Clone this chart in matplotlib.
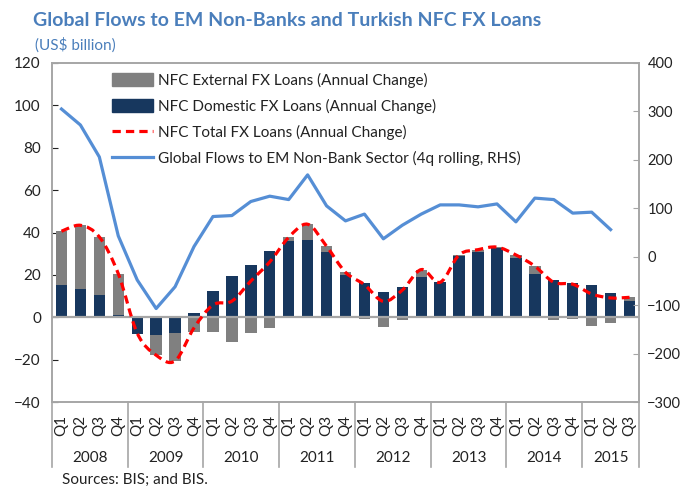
import numpy as np
import matplotlib
matplotlib.use('Agg')
import matplotlib.pyplot as plt
from matplotlib.path import Path
from matplotlib.patches import PathPatch, Patch
from matplotlib.lines import Line2D
import matplotlib.transforms as mtransforms

plt.rcParams['font.family'] = ['Lato', 'DejaVu Sans']

years = ['2008', '2009', '2010', '2011', '2012', '2013', '2014', '2015']
quarters = ['Q1', 'Q2', 'Q3', 'Q4'] * 7 + ['Q1', 'Q2', 'Q3']

# US$ billion, annual change
domestic = [15.1, 13.4, 10.5, 1.2, -8.0, -8.5, -7.5, 1.9, 12.4, 19.5, 24.5, 31.1,
            36.0, 36.6, 30.7, 20.0, 16.2, 11.8, 14.2, 19.0, 16.8, 28.9, 30.7, 32.8,
            28.1, 20.3, 17.5, 16.4, 15.1, 11.6, 7.7]
external = [25.5, 30.0, 27.4, 19.4, 0.0, -9.4, -13.1, -6.9, -6.9, -11.9, -7.4, -5.0,
            1.7, 7.3, 2.8, 1.2, -0.8, -4.6, -1.4, 3.5, -0.5, 0.5, 1.2, 0.3,
            1.3, 3.8, -1.4, -0.8, -4.1, -2.5, 1.7]
total = [40.6, 43.4, 37.9, 20.6, -7.5, -17.9, -20.6, -5.0, 5.8, 7.6, 17.1, 26.1,
         37.7, 43.9, 33.5, 21.2, 15.4, 7.5, 12.8, 22.5, 16.5, 29.4, 31.9, 33.1,
         29.4, 24.1, 16.5, 15.6, 11.0, 9.1, 9.4]
# global flows to EM non-bank sector, 4q rolling (RHS)
flows = [305, 272, 206, 43, -48, -107, -62, 21, 83, 85, 114, 125,
         118, 169, 105, 74, 88, 37, 65, 88, 107, 107, 103, 109,
         72, 121, 118, 90, 92, 56, np.nan]

title_col = '#4A7EBB'
gray = '#808080'
navy = '#17375E'
red = '#FF0000'
blue = '#558ED5'
axcol = '#A6A6A6'

x = np.arange(len(domestic))
dom = np.array(domestic)
ext = np.array(external)
ext_bottom = np.where(np.sign(ext) == np.sign(dom), dom, 0)

fig = plt.figure(figsize=(6.86, 4.86), dpi=100)
ax = fig.add_axes([52/686, 1-402/486, 587/686, 339/486])
ax2 = ax.twinx()

ax.bar(x, dom, width=0.6, color=navy, zorder=2)
ax.bar(x, ext, width=0.6, bottom=ext_bottom, color=gray, zorder=2)
ax.axhline(0, color=axcol, lw=1.6, zorder=3)

# smoothed total line (bezier through the points)
pts = np.column_stack([x, total]).astype(float)
verts = [pts[0]]
codes = [Path.MOVETO]
n = len(pts)
for i in range(n - 1):
    p0 = pts[max(i - 1, 0)]
    p1 = pts[i]
    p2 = pts[i + 1]
    p3 = pts[min(i + 2, n - 1)]
    verts += [p1 + (p2 - p0) / 6, p2 - (p3 - p1) / 6, p2]
    codes += [Path.CURVE4] * 3
ax.add_patch(PathPatch(Path(verts, codes), fill=False, edgecolor=red, lw=2.3,
                       linestyle=(0, (2.6, 1.6)), zorder=4))

ax2.plot(x, flows, color=blue, lw=2.3, zorder=5)

ax.set_xlim(-0.5, len(x) - 0.5)
ax.set_ylim(-40, 120)
ax.set_yticks(range(-40, 121, 20))
ax2.set_ylim(-300, 400)
ax2.set_yticks(range(-300, 401, 100))

for a in (ax, ax2):
    for s in a.spines.values():
        s.set_color(axcol)
        s.set_linewidth(1.2)
    a.tick_params(axis='y', direction='in', length=4, color=axcol,
                  labelsize=11, colors='#222222', pad=8)
ax.tick_params(axis='y', colors='#222222')
ax2.tick_params(axis='y', pad=6, labelsize=10.5)

ax.set_xticks(x)
ax.set_xticklabels(quarters, rotation=90, fontsize=11, color='#222222')
ax.tick_params(axis='x', length=0, pad=9)

trans = mtransforms.blended_transform_factory(ax.transData, ax.transAxes)
for b in [-0.5, 3.5, 7.5, 11.5, 15.5, 19.5, 23.5, 27.5, len(x) - 0.5]:
    ax.plot([b, b], [0, -0.191], color=axcol, lw=1.2, transform=trans, clip_on=False)
for k, yr in enumerate(years):
    c = 4 * k + 1.5 if k < 7 else 29
    ax.text(c, -0.165, yr, transform=trans, ha='center', va='center',
            fontsize=11, color='#222222')

handles = [Patch(color=gray), Patch(color=navy),
           Line2D([], [], color=red, lw=2.3, linestyle=(0, (2.6, 1.6))),
           Line2D([], [], color=blue, lw=2.3)]
labels = ['NFC External FX Loans (Annual Change)',
          'NFC Domestic FX Loans (Annual Change)',
          'NFC Total FX Loans (Annual Change)',
          'Global Flows to EM Non-Bank Sector (4q rolling, RHS)']
leg = ax2.legend(handles, labels, loc='upper left', bbox_to_anchor=(0.085, 1.0),
                 frameon=False, fontsize=11, handlelength=2.7, handleheight=0.9,
                 handletextpad=0.3, labelspacing=0.72, borderaxespad=0.25)
for t in leg.get_texts():
    t.set_color('#222222')

fig.text(33/686, 1-20/486, 'Global Flows to EM Non-Banks and Turkish NFC FX Loans',
         fontsize=14, fontweight='bold', color=title_col, va='center')
fig.text(35/686, 1-45/486, '(US$ billion)', fontsize=11, color=title_col, va='center')
fig.text(62/686, 1-480/486, 'Sources: BIS; and BIS.', fontsize=11, color='#222222',
         va='center')

fig.savefig('out.png', dpi=100)
